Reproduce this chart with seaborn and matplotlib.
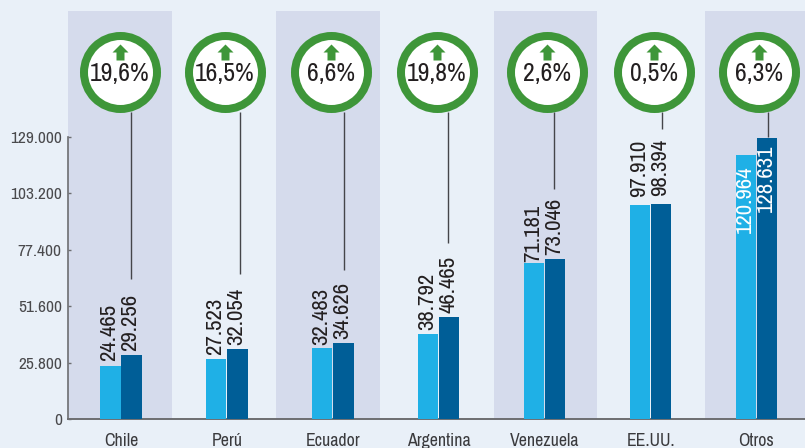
import matplotlib
matplotlib.use("Agg")
import matplotlib.pyplot as plt
from matplotlib.path import Path
import seaborn as sns
import pandas as pd

categories = ["Chile", "Perú", "Ecuador", "Argentina", "Venezuela", "EE.UU.", "Otros"]
series_a = [24465, 27523, 32483, 38792, 71181, 97910, 120964]
series_b = [29256, 32054, 34626, 46465, 73046, 98394, 128631]
labels_a = ["24.465", "27.523", "32.483", "38.792", "71.181", "97.910", "120.964"]
labels_b = ["29.256", "32.054", "34.626", "46.465", "73.046", "98.394", "128.631"]
changes = ["19,6%", "16,5%", "6,6%", "19,8%", "2,6%", "0,5%", "6,3%"]
yticks = [0, 25800, 51600, 77400, 103200, 129000]
ytick_labels = ["0", "25.800", "51.600", "77.400", "103.200", "129.000"]

W, H = 805, 448
BG, BAND = "#E9F0F8", "#D5DBEC"
LIGHT, DARK = "#1FB0E6", "#005E97"
GREEN, INK, AXIS = "#3E9639", "#231F20", "#6D6E71"
FONT = ["Archivo Narrow", "Roboto Condensed", "DejaVu Sans"]

sns.set_theme(style="white")
plt.rcParams["font.family"] = FONT

# pixel layout of the reference
circle_px = [120, 224.7, 331, 437, 547, 654, 758.7]
stem_px = [131, 240, 344, 448, 554, 662, 767.5]
stem_end_px = [279, 274, 270, 243, 189, 129, 137]
bands_px = [(68, 172), (276, 380), (494, 597), (705, 805)]
gap_a = [3, 3, 2, 3, 1, 6, -8]
gap_b = [3, 3, 3, 3, 3, 6, -5]

fig = plt.figure(figsize=(W / 100, H / 100), dpi=100, facecolor=BG)
ax = fig.add_axes([68 / W, 1 - 419 / H, (W - 68) / W, (419 - 11) / H], facecolor="none")

df = pd.DataFrame({
    "cat": categories * 2,
    "val": series_a + series_b,
    "serie": ["a"] * 7 + ["b"] * 7,
})
sns.barplot(data=df, x="cat", y="val", hue="serie", palette=[LIGHT, DARK],
            width=0.40, gap=0.04, legend=False, ax=ax, zorder=3, saturation=1,
            linewidth=0, edgecolor="none")

SPACING = 105.9
X0 = 121.0
xp = lambda p: (p - X0) / SPACING
PX_PER_UNIT = 282 / 129000
yp = lambda p: (419 - p) / PX_PER_UNIT

ax.set_xlim(xp(68), xp(805))
ax.set_ylim(0, yp(11))
ax.set_xlabel("")
ax.set_ylabel("")

for a, b in bands_px:
    ax.axvspan(xp(a), xp(b), color=BAND, lw=0, zorder=0)

for s in ["top", "right"]:
    ax.spines[s].set_visible(False)
ax.spines["left"].set_bounds(0, 129000)
ax.spines["left"].set_color(AXIS)
ax.spines["left"].set_linewidth(1.2)
ax.spines["bottom"].set_color(AXIS)
ax.spines["bottom"].set_linewidth(1.4)
ax.spines["bottom"].set_zorder(2)

ax.set_yticks(yticks)
ax.set_yticklabels(ytick_labels)
ax.tick_params(axis="y", direction="in", length=2.5, width=1, color=AXIS,
               labelsize=12.5, labelcolor="#4A4A4D", pad=4.5, left=True)
ax.tick_params(axis="x", length=0, labelsize=12.8, labelcolor="#3A3A3D", pad=10)

for i in range(7):
    for j, (vals, labs, gaps) in enumerate(((series_a, labels_a, gap_a), (series_b, labels_b, gap_b))):
        left = i + (-0.2 if j == 0 else 0.0)
        cx = left + 0.1 - 0.01
        v = vals[i]
        inside = gaps[i] < 0
        ax.annotate(labs[i], (cx, v), xytext=(0, gaps[i]), textcoords="offset points",
                    rotation=90, ha="center", va="top" if inside else "bottom",
                    color="white" if inside else INK,
                    fontsize=16.5, fontweight=500, zorder=5)

# connector lines
for sx, se in zip(stem_px, stem_end_px):
    ax.plot([xp(sx), xp(sx)], [yp(112), yp(se)], color="#45454A", lw=1.0, zorder=2,
            clip_on=False, solid_capstyle="butt")

# badges
arrow = Path([(-1, 0), (0, 1), (1, 0), (0.5, 0), (0.5, -1), (-0.5, -1), (-0.5, 0), (-1, 0)], closed=True)
cxs = [xp(c) for c in circle_px]
ax.scatter(cxs, [yp(71.5)] * 7, s=(73 * 0.72) ** 2, facecolor="white", edgecolor=GREEN,
           linewidth=8 * 0.72, zorder=6, clip_on=False)
ax.scatter(cxs, [yp(52)] * 7, s=(16 * 0.72) ** 2, marker=arrow, color=GREEN, linewidth=0,
           zorder=7, clip_on=False)
for c, t in zip(cxs, changes):
    ax.text(c, yp(74), t, ha="center", va="center", fontsize=18.5, fontweight=500, color=INK, zorder=8)

fig.savefig("out.png", dpi=100, facecolor=BG)
